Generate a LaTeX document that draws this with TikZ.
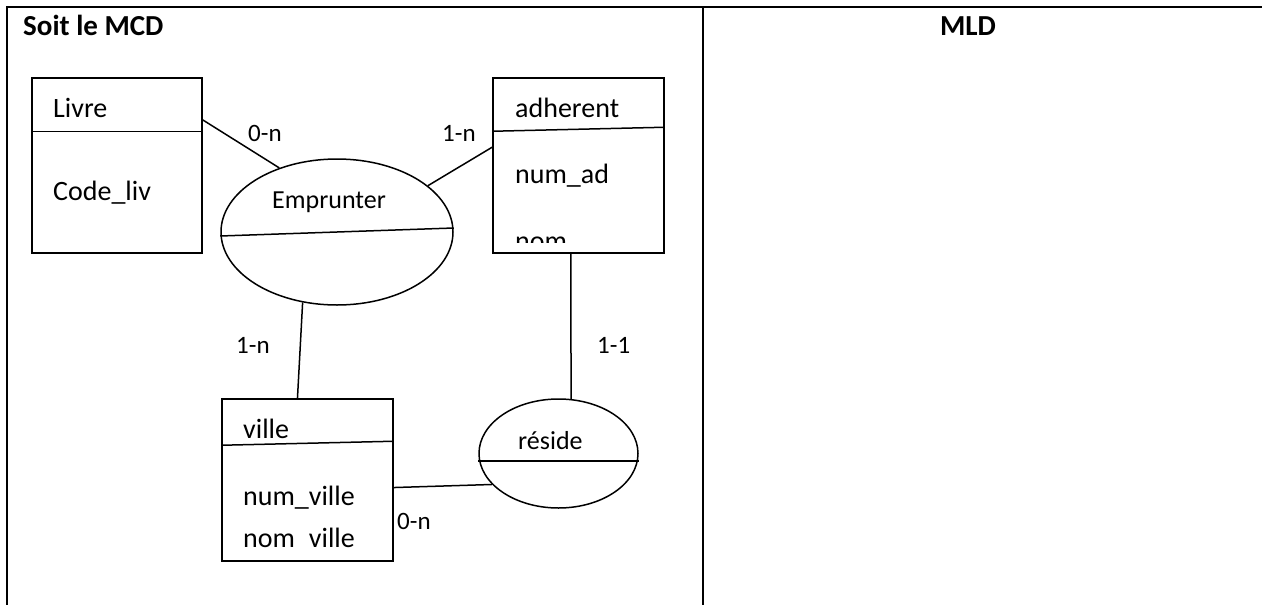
\documentclass[tikz,border=0pt]{standalone}
\usepackage{fontspec}
\setmainfont{Carlito}
\usetikzlibrary{shapes.geometric}
\tikzset{
  ent/.style={draw, rectangle, line width=1.5pt, inner sep=0pt},
  asso/.style={draw, ellipse, line width=1.5pt, inner sep=0pt},
  link/.style={line width=1.5pt},
  txt/.style={anchor=base west, inner sep=0pt, font=\fontsize{28}{30}\selectfont},
  atxt/.style={txt, font=\fontsize{26}{28}\selectfont},
  card/.style={txt, font=\fontsize{25}{27}\selectfont},
  ttl/.style={anchor=base, inner sep=0pt, font=\fontsize{29}{31}\selectfont\bfseries},
}
\begin{document}
\begin{tikzpicture}[x=1pt,y=-1pt]
  \useasboundingbox (0,0) rectangle (1262,605);
  % table frame
  \draw[line width=2.2pt] (7,605) -- (7,7) -- (1262,7);
  \draw[line width=2.2pt] (703,7) -- (703,605);
  \node[ttl, anchor=base west] (mcd) at (23,35) {Soit le MCD};
  \node[ttl] (mld) at (968,35) {MLD};
  % entities
  \node[ent, minimum width=170pt, minimum height=175pt] (livre) at (117,165.5) {};
  \draw[link] ([yshift=-54pt]livre.north west) -- ([yshift=-54pt]livre.north east);
  \node[ent, minimum width=171pt, minimum height=175pt] (adh) at (578.5,165.5) {};
  \draw[link] ([yshift=-54pt]adh.north west) -- ([yshift=-50pt]adh.north east);
  \node[ent, minimum width=171pt, minimum height=162pt] (ville) at (307.5,480) {};
  \draw[link] ([yshift=-47pt]ville.north west) -- ([yshift=-43pt]ville.north east);
  % associations
  \node[asso, minimum width=232pt, minimum height=146pt] (emp) at (337,232) {};
  \draw[link] ([yshift=-4pt]emp.west) -- ([yshift=4pt]emp.east);
  \node[asso, minimum width=159pt, minimum height=109pt] (res) at (558.5,453.5) {};
  \draw[link] ([yshift=-7.5pt]res.west) -- ([yshift=-7.5pt]res.east);
  % texts
  \foreach \x/\y/\t [count=\i] in {53/117/Livre, 53/200/Code\_liv, 515/117/adherent,
      515/183/num\_ad, 243/438/ville, 243/505/num\_ville, 243/547/{nom\phantom{\_}ville}}
    { \node[txt] (att\i) at (\x,\y) {\t}; }
  \begin{scope}
    \clip (493,78) rectangle (664,242);
    \node[txt] (nom) at (515,250) {nom};
  \end{scope}
  \node[atxt] (empT) at (272,208) {Emprunter};
  \node[atxt] (resT) at (518,449) {réside};
  % links
  \draw[link] (livre.28) -- (emp.132);
  \draw[link] (emp.27) -- (adh.168);
  \draw[link] (emp.244) -- (ville.97);
  \draw[link] (adh.265) -- (res.77);
  \draw[link] (ville.-5) -- (res.205);
  % cardinalities
  \foreach \x/\y/\t [count=\i] in {248/141/0-n, 442/141/1-n, 236/353/1-n, 597/353/1-1, 397/529/0-n}
    { \node[card] (c\i) at (\x,\y) {\t}; }
\end{tikzpicture}
\end{document}
